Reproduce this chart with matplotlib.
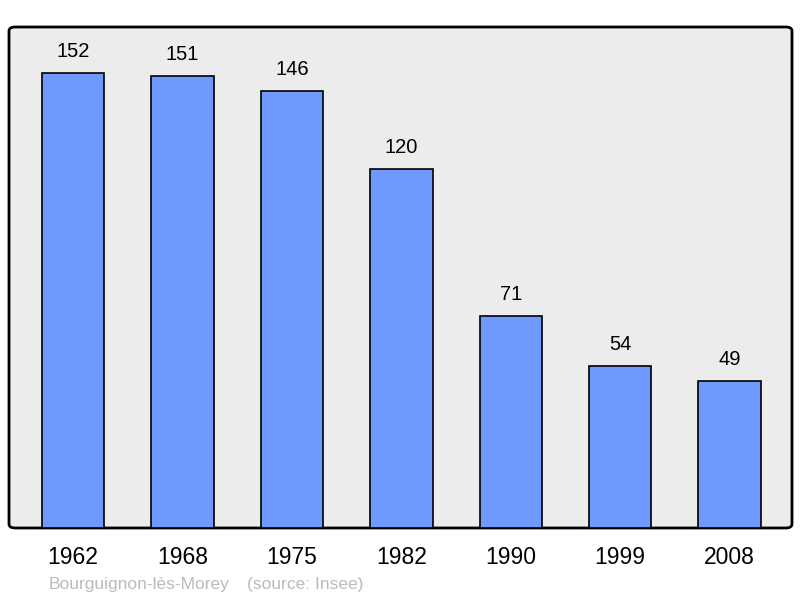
import matplotlib.pyplot as plt
from matplotlib.patches import FancyBboxPatch

# Données
annees = ["1962", "1968", "1975", "1982", "1990", "1999", "2008"]
population = [152, 151, 146, 120, 71, 54, 49]
commune = "Bourguignon-lès-Morey"
source = "(source: Insee)"

plt.rcParams['font.family'] = ['Liberation Sans', 'DejaVu Sans']

fig = plt.figure(figsize=(8, 5.98), dpi=100)
ax = fig.add_axes([9 / 800, 1 - 528 / 598, 783 / 800, 501 / 598])
ax.patch.set_visible(False)

# Cadre arrondi avec fond gris
cadre = FancyBboxPatch((0, 0), 1, 1, boxstyle="round,pad=0,rounding_size=0.008",
                       transform=ax.transAxes, facecolor="#ececec",
                       edgecolor="black", linewidth=2, zorder=0, clip_on=False)
ax.add_patch(cadre)

x = range(len(annees))
ax.bar(x, population, width=0.57, color="#7099ff", edgecolor="black",
       linewidth=1.2, zorder=2)
for xi, v in zip(x, population):
    ax.text(xi, v + 4.0, str(v), ha="center", va="bottom", fontsize=14.5,
            color="black")

ax.set_xlim(-0.585, 6.57)
ax.set_ylim(0, 167.4)
for s in ax.spines.values():
    s.set_visible(False)
ax.set_yticks([])
ax.set_xticks(list(x))
ax.set_xticklabels(annees, fontsize=16.5)
ax.tick_params(axis="x", length=0, pad=13)

fig.text(49 / 800, 1 - 584 / 598, commune, fontsize=12.5, color="#bbbbbb",
         va="center", ha="left")
fig.text(247 / 800, 1 - 584 / 598, source, fontsize=12.5, color="#bbbbbb",
         va="center", ha="left")

fig.savefig("out.png", dpi=100)
